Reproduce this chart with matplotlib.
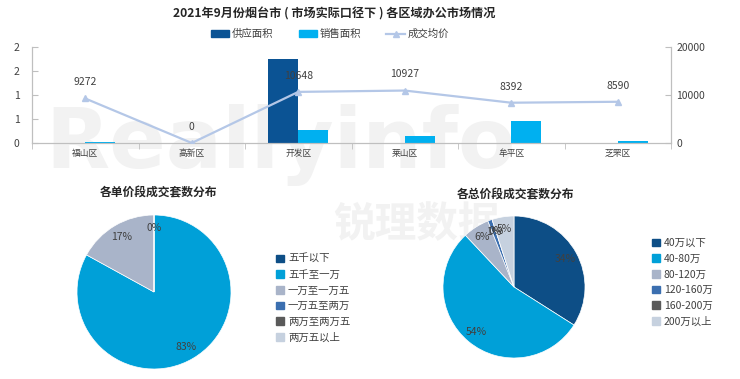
import matplotlib
matplotlib.use("Agg")
import matplotlib.pyplot as plt
from matplotlib.patches import Patch
from matplotlib.lines import Line2D
import numpy as np

plt.rcParams['font.family'] = ['Noto Sans CJK SC', 'DejaVu Sans']

# ---------------- data ----------------
title = "2021年9月份烟台市 ( 市场实际口径下 ) 各区域办公市场情况"
districts = ["福山区", "高新区", "开发区", "莱山区", "牟平区", "芝罘区"]
supply_area = [0, 0, 1.75, 0, 0, 0]
sales_area = [0.03, 0, 0.27, 0.15, 0.46, 0.04]
avg_price = [9272, 0, 10648, 10927, 8392, 8590]
left_ticks = [0, 0.5, 1.0, 1.5, 2.0]
left_tick_labels = ["0", "1", "1", "2", "2"]
right_ticks = [0, 10000, 20000]

unit_title = "各单价段成交套数分布"
unit_labels = ["五千以下", "五千至一万", "一万至一万五", "一万五至两万", "两万至两万五", "两万五以上"]
unit_values = [0, 83, 17, 0, 0, 0]
unit_shown = ["0%", "83%", "17%", "", "", ""]

total_title = "各总价段成交套数分布"
total_labels = ["40万以下", "40-80万", "80-120万", "120-160万", "160-200万", "200万以上"]
total_values = [34, 54, 6, 1, 0, 5]
total_shown = ["34%", "54%", "6%", "1%", "0%", "5%"]

# ---------------- style ----------------
c_supply = "#0B5394"
c_sales = "#00B0F0"
c_line = "#B4C7E7"
pie_colors = ["#0D4E86", "#00A0D8", "#A9B4C9", "#3B6FB0", "#5A5A5A", "#C6D1DF"]
txt = "#404040"
spine_c = "#BFBFBF"

W, H = 740, 379
fig = plt.figure(figsize=(W / 100, H / 100), dpi=100)
fig.patch.set_facecolor("white")

def fx(px):
    return px / W

def fy(py):
    return 1 - py / H

# watermark (behind everything)
fig.text(fx(45), fy(145), "Reallyinfo", fontsize=60, fontweight="bold",
         color="#F2F2F2", va="center", ha="left", zorder=-5, family="DejaVu Sans")
fig.text(fx(333), fy(225), "锐理数据", fontsize=30, fontweight="bold",
         color="#F2F2F2", va="center", ha="left", zorder=-5)

# title
fig.text(fx(334), fy(14), title, fontsize=8.7, fontweight="bold", color="#262626",
         ha="center", va="center")

# ---------------- bar + line chart ----------------
ax = fig.add_axes([fx(32), fy(143), fx(671) - fx(32), fy(47) - fy(143)])
ax.set_facecolor("none")
x = np.arange(len(districts))
bw = 0.28
ax.bar(x - bw / 2, supply_area, width=bw, color=c_supply, zorder=2)
ax.bar(x + bw / 2, sales_area, width=bw, color=c_sales, zorder=2)
ax.set_xlim(-0.5, len(districts) - 0.5)
ax.set_ylim(0, 2.0)
ax.set_yticks(left_ticks)
ax.set_yticklabels(left_tick_labels)
ax.set_xticks(x)
ax.set_xticklabels(districts, fontsize=6.3, color=txt)
ax.set_xticks(np.arange(len(districts) + 1) - 0.5, minor=True)
ax.tick_params(axis="x", which="major", length=0, pad=4)
ax.tick_params(axis="x", which="minor", length=4, direction="out", color=spine_c)
ax.tick_params(axis="y", length=4, direction="in", color=spine_c, labelsize=7.5,
               labelcolor=txt, pad=9)
ax.spines["top"].set_visible(False)
for s in ["left", "bottom", "right"]:
    ax.spines[s].set_color(spine_c)

ax2 = ax.twinx()
ax2.set_facecolor("none")
ax2.plot(x, avg_price, color=c_line, lw=1.6, marker="^", markersize=5,
         markerfacecolor=c_line, markeredgecolor=c_line, zorder=3)
ax2.set_ylim(0, 20000)
ax2.set_yticks(right_ticks)
ax2.tick_params(axis="y", length=4, direction="in", color=spine_c, labelsize=7.5,
                labelcolor=txt, pad=4)
ax2.spines["top"].set_visible(False)
for s in ["left", "bottom", "right"]:
    ax2.spines[s].set_color(spine_c)
for xi, v in zip(x, avg_price):
    ax2.annotate(f"{v}", (xi, v), xytext=(0, 8), textcoords="offset points",
                 ha="center", va="bottom", fontsize=7.5, color=txt, zorder=4)

handles = [Patch(color=c_supply), Patch(color=c_sales),
           Line2D([0], [0], color=c_line, lw=1.6, marker="^", markersize=4)]
fig.legend(handles, ["供应面积", "销售面积", "成交均价"], loc="center",
           bbox_to_anchor=(fx(330), fy(34)), ncol=3, frameon=False, fontsize=7.5,
           handlelength=1.75, handleheight=0.55, columnspacing=2.4, handletextpad=0.3,
           labelcolor=txt, borderpad=0)

# ---------------- pies ----------------
def draw_pie(cx, cy, r, values, shown, labels, ttl, tx, ty, lx, ly):
    axp = fig.add_axes([fx(cx - r), fy(cy + r), fx(2 * r), fy(cy - r) - fy(cy + r)])
    axp.set_facecolor("none")
    axp.pie(values, colors=pie_colors, startangle=90, counterclock=False,
            wedgeprops=dict(edgecolor="white", linewidth=0.5))
    tot = float(sum(values))
    cum = 0.0
    for v, s in zip(values, shown):
        mid = (cum + v / 2) / tot
        cum += v
        if not s:
            continue
        ang = np.deg2rad(90 - 360 * mid)
        axp.text(0.83 * np.cos(ang), 0.83 * np.sin(ang), s, ha="center", va="center",
                 fontsize=7.5, color=txt)
    axp.set_xlim(-1.0, 1.0)
    axp.set_ylim(-1.0, 1.0)
    axp.set_aspect("equal")
    fig.text(fx(tx), fy(ty), ttl, fontsize=8.5, fontweight="bold", color="#262626",
             ha="center", va="center")
    hs = [Patch(color=c) for c in pie_colors]
    fig.legend(hs, labels, loc="upper left", bbox_to_anchor=(fx(lx), fy(ly)),
               frameon=False, fontsize=7.5, handlelength=0.75, handleheight=0.75,
               handletextpad=0.4, labelspacing=0.55, labelcolor=txt,
               borderaxespad=0, borderpad=0)

draw_pie(154, 292, 77, unit_values, unit_shown, unit_labels, unit_title, 158, 193, 276, 254)
draw_pie(514, 287, 71, total_values, total_shown, total_labels, total_title, 515, 195, 652, 238)

fig.savefig("out.png", dpi=100, facecolor="white")
